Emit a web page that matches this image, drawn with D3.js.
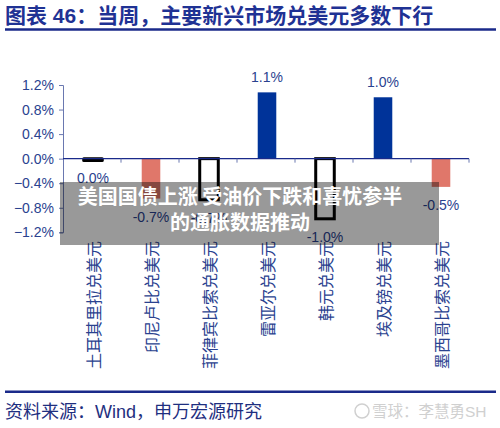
<!DOCTYPE html>
<html>
<head>
<meta charset="utf-8">
<script src="https://cdn.jsdelivr.net/npm/d3@7"></script>
<style>
  body { margin: 0; background: #fff; }
  svg { display: block; font-family: "Liberation Sans", "Noto Sans CJK SC", sans-serif; }
</style>
</head>
<body>
<svg id="vis" width="500" height="428"></svg>
<script>
// data
const categories = ['土耳其里拉兑美元', '印尼卢比兑美元', '菲律宾比索兑美元', '雷亚尔兑美元',
    '韩元兑美元', '埃及镑兑美元', '墨西哥比索兑美元'];
const values = [-0.03, -0.65, -0.67, 1.08, -0.98, 1.0, -0.46];
const valueLabels = ['0.0%', '-0.7%', '-0.7%', '1.1%', '-1.0%', '1.0%', '-0.5%'];
const highlighted = [true, false, true, false, true, false, false];
const yTicks = [-1.2, -0.8, -0.4, 0, 0.4, 0.8, 1.2];

const navy = '#1a2a8a';
const textBlue = '#2a428f';
const blue = '#003399';
const red = '#e0776a';

const svg = d3.select('#vis');

// title
svg.append('text')
    .attr('x', 5)
    .attr('y', 23)
    .attr('font-size', '21px')
    .attr('font-weight', 'bold')
    .attr('fill', '#1f3294')
    .text('图表 46：当周，主要新兴市场兑美元多数下行');

svg.append('line')
    .attr('x1', 5).attr('x2', 496)
    .attr('y1', 29.5).attr('y2', 29.5)
    .attr('stroke', navy)
    .attr('stroke-width', 2.5);

// plot
const plot = { left: 63, right: 469, top: 85, bottom: 232.3 };

const xScale = d3.scaleBand()
    .domain(categories)
    .range([plot.left, plot.right])
    .padding(0);

const yScale = d3.scaleLinear()
    .domain([-1.2, 1.2])
    .range([plot.bottom, plot.top]);

const barW = xScale.bandwidth() * 0.32;

// y axis
const yAxis = svg.append('g')
    .attr('transform', 'translate(' + plot.left + ', 0)')
    .call(d3.axisLeft(yScale)
        .tickValues(yTicks)
        .tickSize(4)
        .tickPadding(5)
        .tickFormat(d => d3.format('.1f')(d) + '%'));
yAxis.select('.domain').attr('stroke', '#6a78b0').attr('stroke-width', 1);
yAxis.selectAll('.tick line').attr('stroke', '#6a78b0');
yAxis.selectAll('.tick text')
    .attr('font-size', '14px')
    .attr('font-family', 'Liberation Sans')
    .attr('fill', textBlue);

// bars (highlighted ones are hollow black boxes; the tiny one reads as a black pill)
svg.selectAll('rect.bar')
    .data(values)
    .enter()
    .append('rect')
    .attr('class', 'bar')
    .attr('x', (d, i) => xScale(categories[i]) + xScale.bandwidth() / 2 - barW / 2 + 1)
    .attr('y', d => yScale(Math.max(0, d)))
    .attr('width', barW)
    .attr('height', d => Math.abs(yScale(d) - yScale(0)))
    .attr('fill', (d, i) => highlighted[i] ? (Math.abs(d) < 0.1 ? '#000' : 'none') : (d >= 0 ? blue : red))
    .attr('stroke', (d, i) => highlighted[i] ? '#000' : 'none')
    .attr('stroke-width', 3)
    .attr('stroke-linejoin', (d, i) => i === 0 ? 'round' : 'miter');

// x axis at zero
const xAxis = svg.append('g')
    .attr('transform', 'translate(0, ' + yScale(0) + ')');
xAxis.append('line')
    .attr('x1', plot.left).attr('x2', plot.right)
    .attr('stroke', navy)
    .attr('stroke-width', 1.2);
xAxis.selectAll('line.tk')
    .data(categories)
    .enter()
    .append('line')
    .attr('class', 'tk')
    .attr('x1', d => xScale(d) + xScale.bandwidth())
    .attr('x2', d => xScale(d) + xScale.bandwidth())
    .attr('y1', 0).attr('y2', 4)
    .attr('stroke', '#6a78b0');

// value labels
svg.selectAll('text.val')
    .data(values)
    .enter()
    .append('text')
    .attr('class', 'val')
    .attr('x', (d, i) => xScale(categories[i]) + xScale.bandwidth() / 2 + 1)
    .attr('y', d => d >= 0 ? yScale(d) - 10 : yScale(d) + 23)
    .attr('text-anchor', 'middle')
    .attr('font-size', '14px')
    .attr('fill', textBlue)
    .text((d, i) => valueLabels[i]);

// category labels, rotated, anchored at the top
svg.selectAll('text.cat')
    .data(categories)
    .enter()
    .append('text')
    .attr('class', 'cat')
    .attr('transform', d => 'translate(' + (xScale(d) + xScale.bandwidth() / 2 + 2) + ', 241) rotate(-90)')
    .attr('text-anchor', 'end')
    .attr('dy', '0.35em')
    .attr('font-size', '16px')
    .attr('font-family', 'Noto Sans CJK SC')
    .attr('fill', textBlue)
    .text(d => d);

// footer
svg.append('line')
    .attr('x1', 5).attr('x2', 496)
    .attr('y1', 391.7).attr('y2', 391.7)
    .attr('stroke', navy)
    .attr('stroke-width', 2.5);

svg.append('text')
    .attr('x', 5)
    .attr('y', 418)
    .attr('font-size', '18px')
    .attr('fill', '#1f2f80')
    .text('资料来源：Wind，申万宏源研究');

// watermark
const wm = svg.append('g').attr('fill', '#d0d0d0').attr('stroke', '#d0d0d0');
wm.append('circle').attr('cx', 362).attr('cy', 411).attr('r', 7).attr('fill', 'none').attr('stroke-width', 1.5);
wm.append('text')
    .attr('x', 372)
    .attr('y', 417)
    .attr('stroke', 'none')
    .attr('font-size', '15.5px')
    .text('雪球：李慧勇SH');

// news overlay
svg.append('rect')
    .attr('x', 60).attr('y', 182)
    .attr('width', 379).attr('height', 63)
    .attr('fill', '#000')
    .attr('fill-opacity', 0.4);

svg.append('text')
    .attr('x', 240).attr('y', 204)
    .attr('text-anchor', 'middle')
    .attr('font-size', '20px')
    .attr('font-weight', 'bold')
    .attr('font-family', 'Noto Sans CJK SC')
    .attr('fill', '#fff')
    .text('美国国债上涨 受油价下跌和喜忧参半');

svg.append('text')
    .attr('x', 240).attr('y', 230)
    .attr('text-anchor', 'middle')
    .attr('font-size', '20px')
    .attr('font-weight', 'bold')
    .attr('font-family', 'Noto Sans CJK SC')
    .attr('fill', '#fff')
    .text('的通胀数据推动');
</script>
</body>
</html>
